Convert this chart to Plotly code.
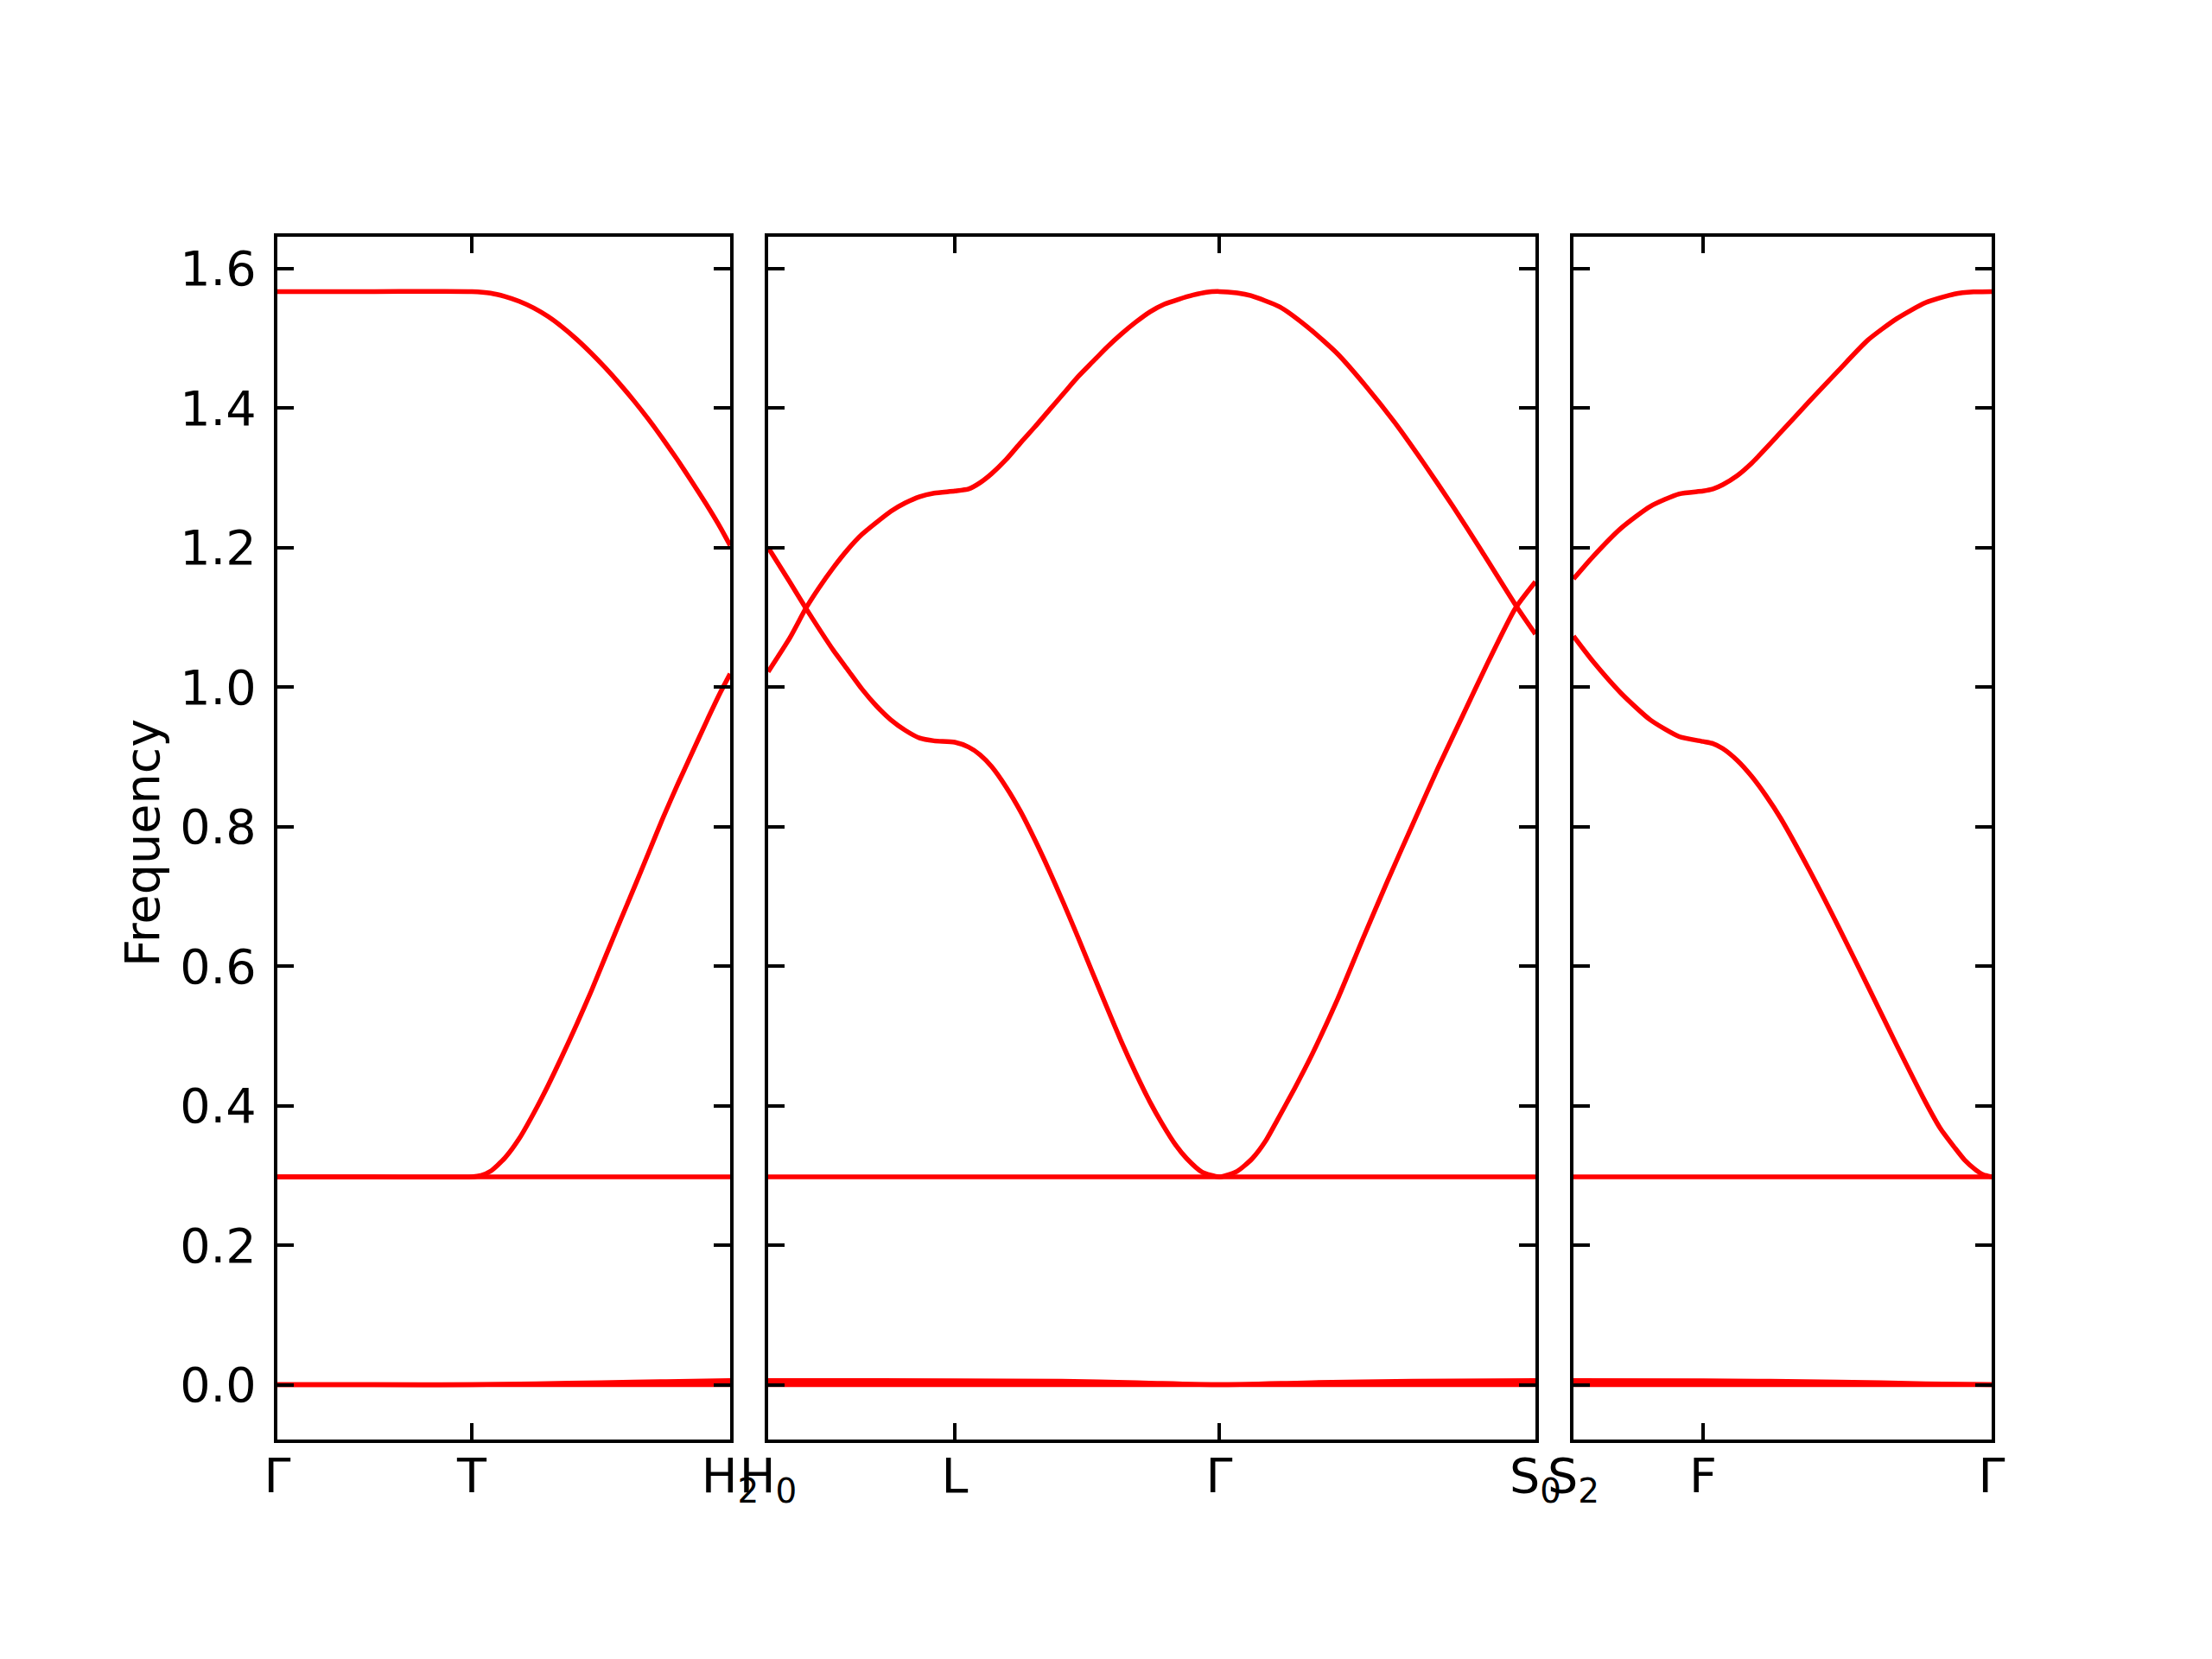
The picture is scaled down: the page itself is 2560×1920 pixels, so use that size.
import plotly.graph_objects as go

# ---------------- data (path distance, frequency) ----------------
# special points per panel
p1_ticks = [0.0, 0.225, 0.524]
p1_labels = ["Γ", "T", "H<sub>2</sub>"]
p2_ticks = [0.524, 0.740, 1.046, 1.412]
p2_labels = ["H<sub>0</sub>", "L", "Γ", "S<sub>0</sub>"]
p3_ticks = [1.412, 1.562, 1.896]
p3_labels = ["S<sub>2</sub>", "F", "Γ"]

y_ticks = [0.0, 0.2, 0.4, 0.6, 0.8, 1.0, 1.2, 1.4, 1.6]

# panel 1 : Γ - T - H2
p1_up_x = [0.0, 0.1125, 0.225, 0.2466, 0.2633, 0.2800, 0.2966, 0.3133, 0.3299, 0.3466,
           0.3632, 0.3798, 0.3965, 0.4131, 0.4298, 0.4464, 0.4631, 0.4797, 0.4964,
           0.5130, 0.524]
p1_up_y = [1.567, 1.567, 1.567, 1.5648, 1.5600, 1.5530, 1.5435, 1.5312, 1.5160, 1.4983,
           1.4786, 1.4573, 1.4342, 1.4097, 1.3833, 1.3553, 1.3256, 1.2945, 1.2621,
           1.2280, 1.2030]
p1_lo_x = [0.0, 0.1125, 0.225, 0.2358, 0.2466, 0.2633, 0.2800, 0.2966, 0.3133, 0.3299,
           0.3466, 0.3632, 0.3798, 0.3965, 0.4131, 0.4298, 0.4464, 0.4631, 0.4797,
           0.4964, 0.5130, 0.524]
p1_lo_y = [0.298, 0.298, 0.298, 0.300, 0.306, 0.325, 0.353, 0.389, 0.429, 0.472,
           0.517, 0.564, 0.614, 0.664, 0.713, 0.763, 0.813, 0.860, 0.905,
           0.950, 0.993, 1.019]
p1_flat_x = [0.0, 0.225, 0.524]
p1_flat_y = [0.298, 0.298, 0.298]
p1_z0_x = [0.0, 0.225, 0.524]
p1_z0_y = [0.0, 0.0, 0.0]
p1_z1_x = [0.0, 0.1125, 0.225, 0.300, 0.375, 0.450, 0.524]
p1_z1_y = [0.0, 0.0, 0.0, 0.0015, 0.0030, 0.0046, 0.0060]

# panel 2 : H0 - L - Γ - S0
p2_a_x = [0.524, 0.5493, 0.5677, 0.5827, 0.5993, 0.6160, 0.6327, 0.6493, 0.6660, 0.6827,
          0.6993, 0.7160, 0.740, 0.7560, 0.7693, 0.7827, 0.7993, 0.8160, 0.8327, 0.8493,
          0.8660, 0.8827, 0.8993, 0.9160, 0.9327, 0.9493, 0.9660, 0.9796, 0.9960, 1.0086,
          1.0260, 1.046, 1.0667, 1.0841, 1.1000, 1.1131, 1.1334, 1.1537, 1.1828, 1.2118,
          1.2408, 1.2698, 1.2988, 1.3278, 1.3569, 1.3888, 1.412]
p2_a_y = [1.200, 1.150, 1.113, 1.084, 1.053, 1.025, 0.997, 0.973, 0.953, 0.938,
          0.927, 0.923, 0.921, 0.914, 0.903, 0.886, 0.857, 0.822, 0.781, 0.737,
          0.690, 0.641, 0.591, 0.541, 0.492, 0.447, 0.405, 0.375, 0.343, 0.324,
          0.305, 0.298, 0.306, 0.324, 0.350, 0.379, 0.425, 0.474, 0.552, 0.638,
          0.722, 0.803, 0.883, 0.959, 1.035, 1.113, 1.151]
p2_b_x = [0.524, 0.5493, 0.5677, 0.5827, 0.5993, 0.6160, 0.6327, 0.6493, 0.6660, 0.6827,
          0.6993, 0.7160, 0.740, 0.7560, 0.7693, 0.7827, 0.7993, 0.8160, 0.8327, 0.8493,
          0.8660, 0.8827, 0.8993, 0.9160, 0.9327, 0.9493, 0.9660, 0.9826, 0.9993, 1.0160,
          1.0310, 1.046, 1.0667, 1.0827, 1.1160, 1.1493, 1.1827, 1.2160, 1.2493, 1.2827,
          1.3160, 1.3493, 1.3910, 1.412]
p2_b_y = [1.022, 1.071, 1.113, 1.142, 1.171, 1.197, 1.219, 1.236, 1.252, 1.264,
          1.273, 1.278, 1.281, 1.284, 1.293, 1.306, 1.326, 1.350, 1.373, 1.397,
          1.421, 1.445, 1.466, 1.487, 1.506, 1.523, 1.538, 1.549, 1.556, 1.562,
          1.566, 1.567, 1.565, 1.561, 1.545, 1.515, 1.478, 1.431, 1.379, 1.321,
          1.260, 1.196, 1.114, 1.076]
p2_flat_x = [0.524, 0.740, 1.046, 1.412]
p2_flat_y = [0.298, 0.298, 0.298, 0.298]
p2_z0_x = [0.524, 0.740, 1.046, 1.412]
p2_z0_y = [0.0, 0.0, 0.0, 0.0]
p2_z1_x = [0.524, 0.740, 0.8635, 0.9506, 1.046, 1.1537, 1.2698, 1.412]
p2_z1_y = [0.0060, 0.0058, 0.0050, 0.0030, 0.0, 0.0030, 0.0050, 0.0060]

# panel 3 : S2 - F - Γ
p3_a_x = [1.412, 1.4338, 1.4673, 1.5009, 1.5344, 1.562, 1.5735, 1.5847, 1.6015, 1.6183,
          1.6350, 1.6518, 1.6853, 1.7189, 1.7524, 1.7860, 1.8195, 1.8363, 1.8531, 1.8648,
          1.8765, 1.8863, 1.896]
p3_a_y = [1.073, 1.038, 0.991, 0.953, 0.929, 0.922, 0.919, 0.912, 0.895, 0.872,
          0.844, 0.812, 0.737, 0.656, 0.572, 0.487, 0.405, 0.368, 0.340, 0.322,
          0.309, 0.301, 0.298]
p3_b_x = [1.412, 1.4338, 1.4673, 1.5009, 1.5344, 1.562, 1.5735, 1.5847, 1.6015, 1.6183,
          1.6518, 1.6853, 1.7189, 1.7524, 1.7860, 1.8195, 1.8531, 1.8750, 1.896]
p3_b_y = [1.155, 1.186, 1.228, 1.259, 1.277, 1.281, 1.284, 1.290, 1.303, 1.321,
          1.365, 1.410, 1.454, 1.497, 1.528, 1.551, 1.5635, 1.5665, 1.567]
p3_flat_x = [1.412, 1.562, 1.896]
p3_flat_y = [0.298, 0.298, 0.298]
p3_z0_x = [1.412, 1.562, 1.896]
p3_z0_y = [0.0, 0.0, 0.0]
p3_z1_x = [1.412, 1.562, 1.7189, 1.8195, 1.896]
p3_z1_y = [0.0060, 0.0058, 0.0040, 0.0015, 0.0]

# ---------------- figure ----------------
W, H = 2560, 1920
OFF = 7  # page body margin of the html page
FONT = "DejaVu Sans"
FS = 55.6
LW = 5.5
AXW = 4.4
RED = "#ff0000"

panels = [
    ("x", "y", [(p1_up_x, p1_up_y), (p1_lo_x, p1_lo_y), (p1_flat_x, p1_flat_y),
                (p1_z0_x, p1_z0_y), (p1_z1_x, p1_z1_y)]),
    ("x2", "y2", [(p2_a_x, p2_a_y), (p2_b_x, p2_b_y), (p2_flat_x, p2_flat_y),
                  (p2_z0_x, p2_z0_y), (p2_z1_x, p2_z1_y)]),
    ("x3", "y3", [(p3_a_x, p3_a_y), (p3_b_x, p3_b_y), (p3_flat_x, p3_flat_y),
                  (p3_z0_x, p3_z0_y), (p3_z1_x, p3_z1_y)]),
]

fig = go.Figure()
for xa, ya, curves in panels:
    for cx, cy in curves:
        fig.add_trace(go.Scatter(x=cx, y=cy, mode="lines", xaxis=xa, yaxis=ya,
                                 line=dict(color=RED, width=LW, shape="spline",
                                           smoothing=0.6),
                                 showlegend=False, hoverinfo="skip"))

top, bottom = 273 - OFF, 1665 - OFF
x_domains = [(320 - OFF, 844 - OFF), (888 - OFF, 1776 - OFF), (1820 - OFF, 2304 - OFF)]
ydom = [1 - bottom / H, 1 - top / H]
yrange = [-0.0785, 1.6455]

tick_sets = [(p1_ticks, p1_labels), (p2_ticks, p2_labels), (p3_ticks, p3_labels)]

common_axis = dict(showline=True, linecolor="black", linewidth=AXW, mirror="ticks",
                   ticks="inside", ticklen=19, tickwidth=AXW, tickcolor="black",
                   showgrid=False, zeroline=False, automargin=False,
                   tickfont=dict(family=FONT, size=FS, color="black"))

layout = dict(width=W, height=H,
              margin=dict(l=0, r=0, t=0, b=0, pad=0, autoexpand=False),
              paper_bgcolor="white", plot_bgcolor="white",
              font=dict(family=FONT, size=FS, color="black"))

for i, ((d0, d1), (tv, tt)) in enumerate(zip(x_domains, tick_sets)):
    sfx = "" if i == 0 else str(i + 1)
    layout["xaxis" + sfx] = dict(common_axis, domain=[d0 / W, d1 / W],
                                 range=[tv[0], tv[-1]], tickvals=tv, ticktext=tt,
                                 anchor="y" + sfx, ticklabelstandoff=-10)
    layout["yaxis" + sfx] = dict(common_axis, domain=ydom, range=yrange,
                                 tickvals=y_ticks, tickformat=".1f",
                                 anchor="x" + sfx, showticklabels=(i == 0),
                                 ticklabelstandoff=9)

fig.update_layout(**layout)
fig.add_annotation(text="Frequency", xref="paper", yref="paper",
                   x=(163 - OFF) / W, y=1 - (975 - OFF) / H, showarrow=False,
                   textangle=-90, font=dict(family=FONT, size=FS, color="black"),
                   xanchor="center", yanchor="middle")

fig.write_html("out.html", config={"displayModeBar": False})
